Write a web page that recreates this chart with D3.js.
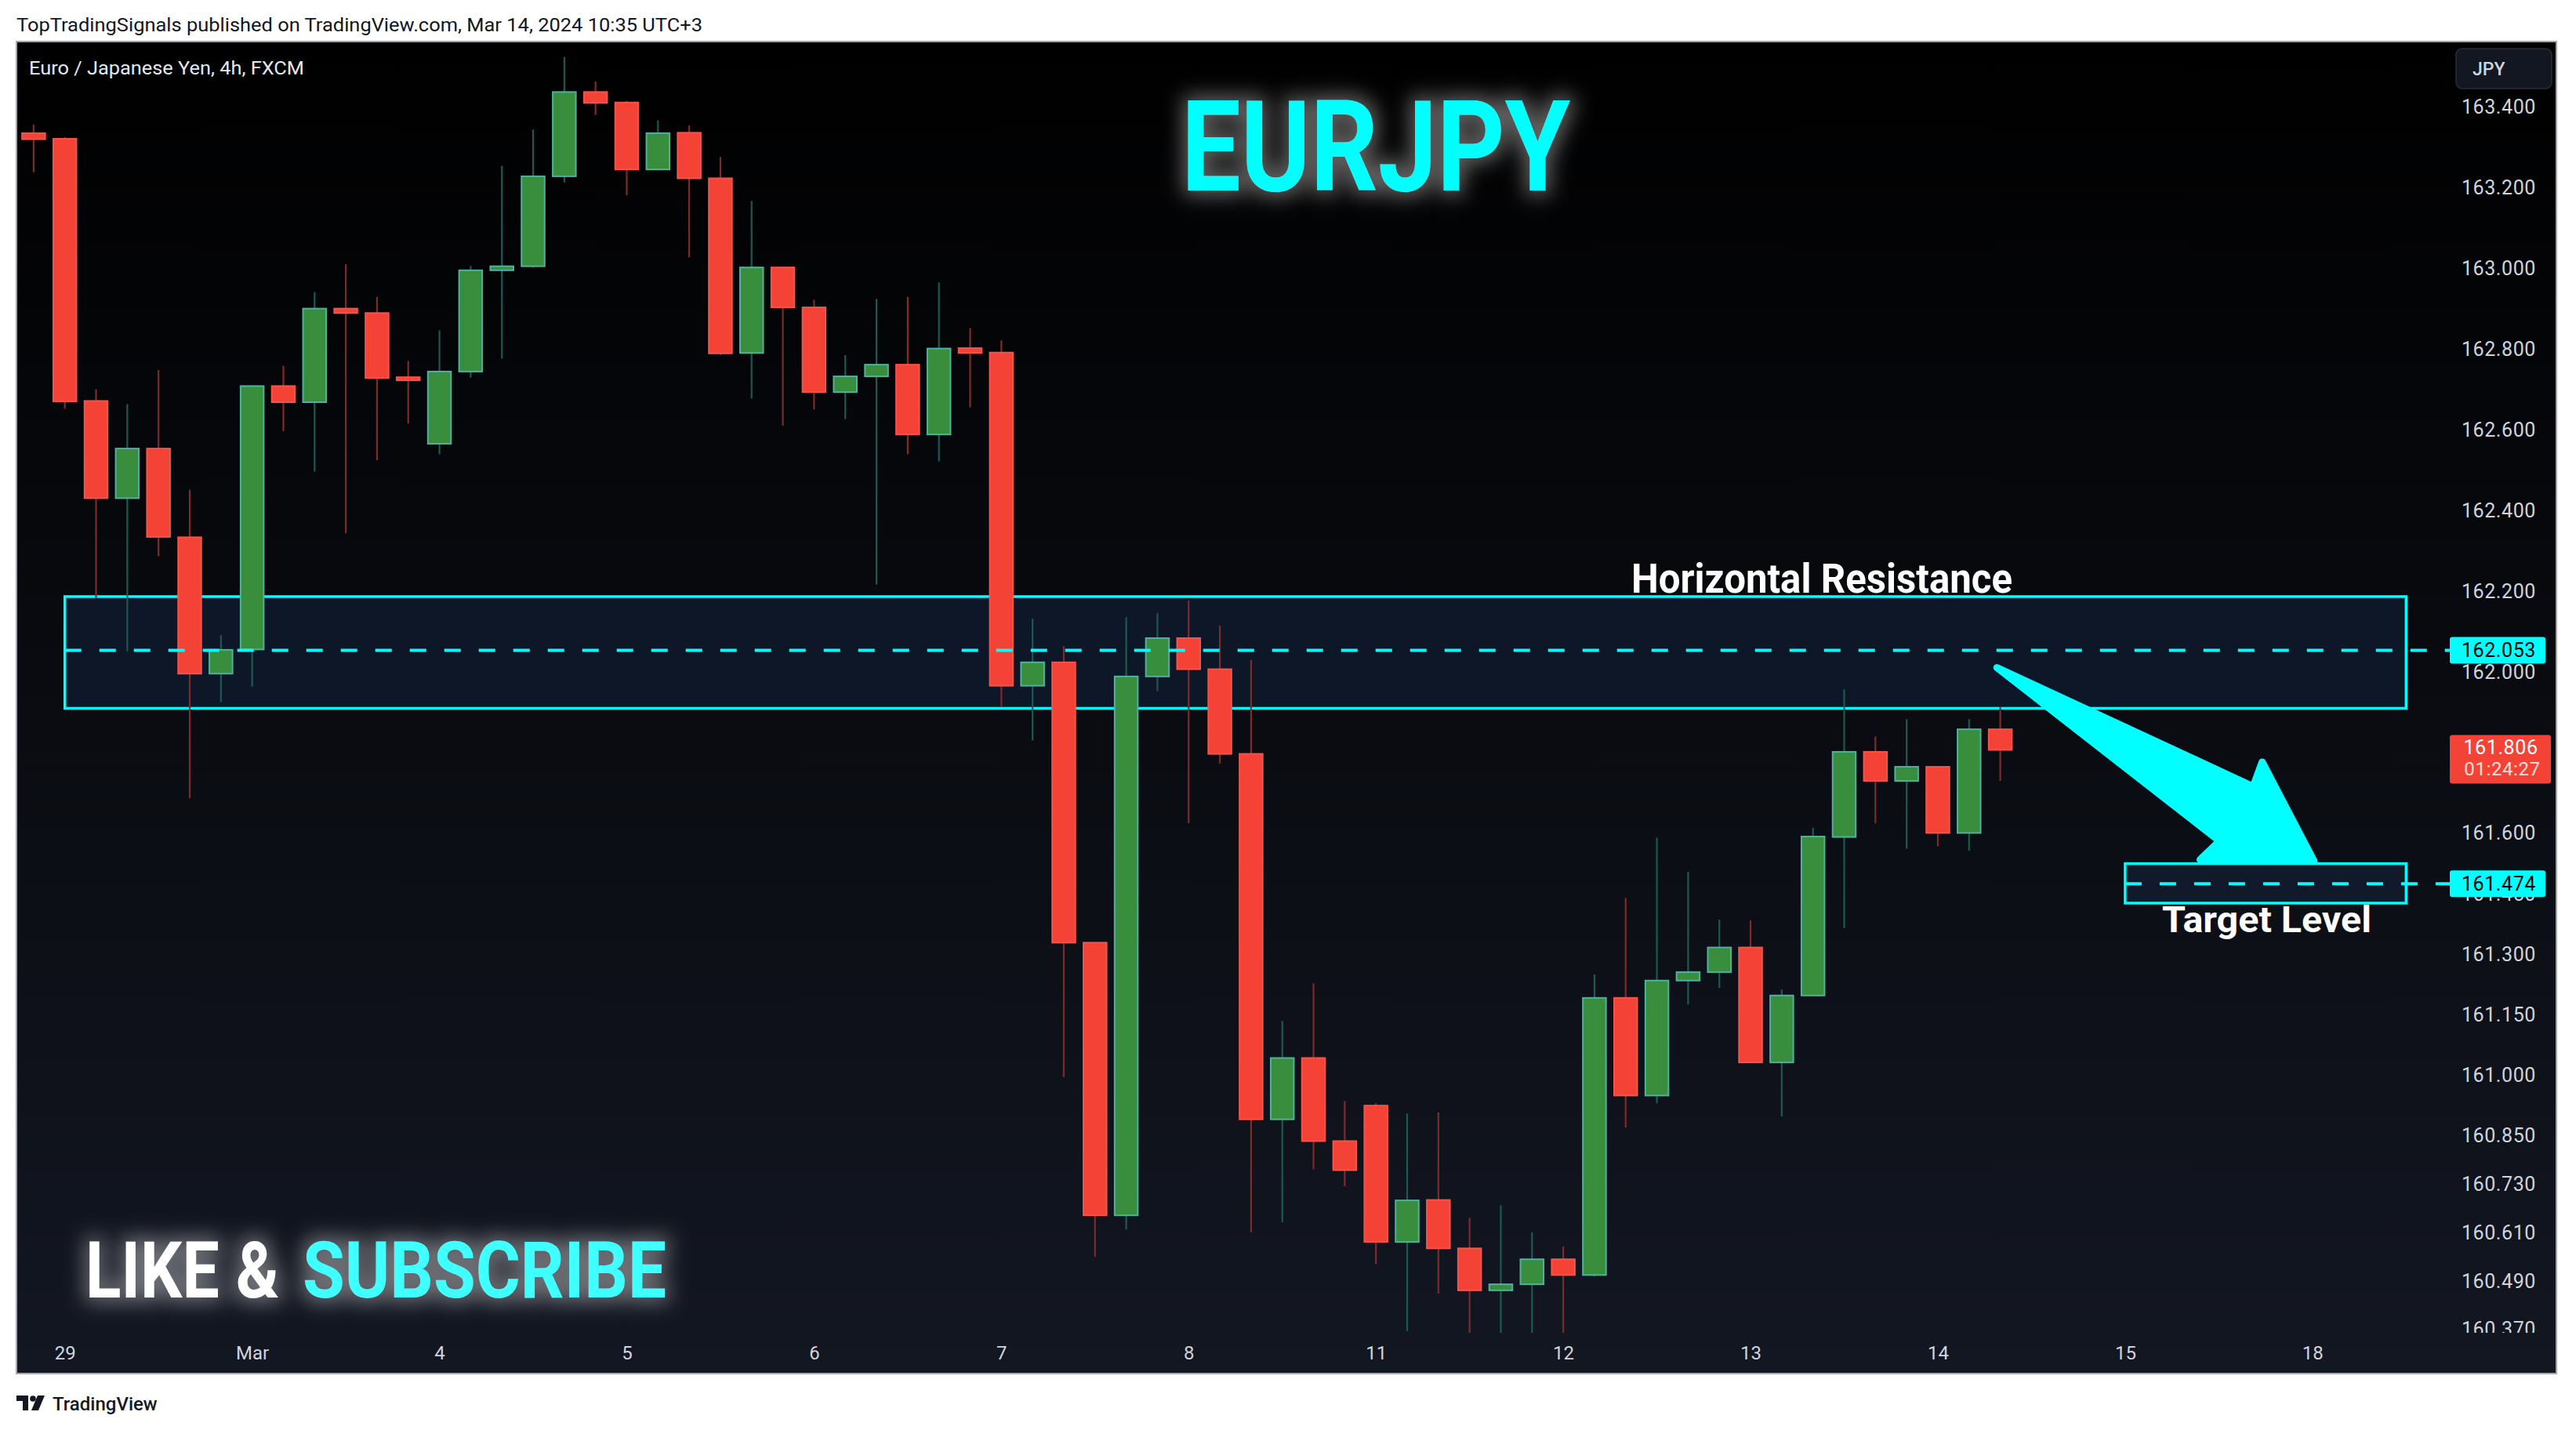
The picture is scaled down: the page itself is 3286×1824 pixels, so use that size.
<!DOCTYPE html>
<html><head><meta charset="utf-8">
<script src="https://cdn.jsdelivr.net/npm/d3@7"></script>
<style>html,body{margin:0;padding:0;background:#fff;} svg{display:block}</style>
</head><body><svg id="c" width="3286" height="1824"></svg>
<script>
// ---------------- DATA ----------------
const dayLabels = ["29","Mar","4","5","6","7","8","11","12","13","14","15","18"];
const dayLabelIndex = [1,7,13,19,25,31,37,43,49,55,61,67,73];

const opens = [163.335,163.321,162.671,162.430,162.553,162.333,161.995,162.055,162.708,162.668,
162.900,162.889,162.728,162.565,162.744,162.995,163.005,163.228,163.437,163.411,
163.245,163.336,163.223,162.790,163.002,162.903,162.693,162.732,162.761,162.588,
162.802,162.791,161.965,162.023,161.328,160.652,161.988,162.083,162.006,161.796,
160.890,161.042,160.836,160.924,160.586,160.690,160.570,160.466,160.481,160.543,
160.504,161.191,160.949,161.234,161.255,161.316,161.031,161.197,161.590,161.801,
161.729,161.764,161.600,161.857];
const highs = [163.356,163.325,162.700,162.663,162.748,162.451,162.090,162.710,162.758,162.941,
163.010,162.929,162.770,162.846,163.006,163.254,163.344,163.524,163.463,163.415,
163.367,163.354,163.276,163.167,163.002,162.922,162.785,162.924,162.929,162.965,
162.852,162.821,162.131,162.063,161.328,162.135,162.145,162.176,162.114,162.029,
161.134,161.227,160.935,160.930,160.904,160.907,160.646,160.677,160.610,160.575,
161.249,161.439,161.588,161.504,161.385,161.383,161.212,161.613,161.956,161.839,
161.882,161.764,161.882,161.913];
const lows = [163.238,162.652,162.183,162.050,162.286,161.686,161.924,161.963,162.596,162.496,
162.343,162.524,162.615,162.539,162.729,162.776,163.001,163.213,163.380,163.181,
163.245,163.027,162.785,162.677,162.610,162.650,162.626,162.216,162.539,162.521,
162.655,161.914,161.829,160.995,160.549,160.617,161.952,161.624,161.772,160.610,
160.635,160.766,160.724,160.531,160.365,160.458,160.340,160.340,160.340,160.340,
160.500,160.870,160.930,161.175,161.216,161.031,160.897,161.197,161.364,161.624,
161.561,161.567,161.556,161.729];
const closes = [163.320,162.670,162.430,162.553,162.334,161.995,162.054,162.708,162.668,162.900,
162.889,162.728,162.724,162.744,162.995,163.005,163.228,163.437,163.410,163.245,
163.335,163.223,162.789,163.002,162.903,162.693,162.732,162.761,162.588,162.801,
162.790,161.965,162.023,161.328,160.652,161.988,162.083,162.006,161.796,160.890,
161.042,160.836,160.764,160.586,160.689,160.570,160.466,160.481,160.543,160.504,
161.191,160.949,161.234,161.255,161.316,161.031,161.197,161.591,161.801,161.729,
161.764,161.600,161.857,161.806];

const priceTicks = [163.4,163.2,163.0,162.8,162.6,162.4,162.2,162.0,161.6,161.45,161.3,161.15,161.0,160.85,160.73,160.61,160.49,160.37];

const resistanceZone = [162.186, 161.909];   // top, bottom
const resistanceSpan = [1, 76];              // bar index start, end
const resistanceLevel = 162.053;
const targetZone = [161.524, 161.426];
const targetSpan = [67, 76];
const targetLevel = 161.474;
const lastPrice = 161.806;
const countdown = "01:24:27";
const arrowIdx = [62.89, 71.10, 71.39, 73.05, 69.40, 70.02];
const arrowPrice = [162.010, 161.715, 161.776, 161.530, 161.534, 161.580];

// ---------------- LAYOUT ----------------
const svg = d3.select("#c");
const P = {left:21, right:3261, top:53, bottom:1752, plotRight:3118, plotBottom:1700};
const x = d3.scaleLinear().domain([0, 73]).range([42.9, 2949.8]);
const y = d3.scaleLinear().domain([163.4, 160.49]).range([136.4, 1633.5]);
const CYAN = "#00ffff";
const FONT = "Roboto, 'Noto Sans', sans-serif";

const defs = svg.append("defs");
const grad = defs.append("linearGradient").attr("id","bg").attr("gradientUnits","userSpaceOnUse")
  .attr("x1",0).attr("y1",P.top).attr("x2",0).attr("y2",P.bottom);
grad.append("stop").attr("offset",0).attr("stop-color","#000000");
grad.append("stop").attr("offset",1).attr("stop-color","#131722");
defs.append("clipPath").attr("id","plotclip").append("rect")
  .attr("x",P.left).attr("y",P.top).attr("width",P.plotRight-P.left).attr("height",P.plotBottom-P.top);
defs.append("clipPath").attr("id","axisclip").append("rect")
  .attr("x",P.plotRight).attr("y",P.top).attr("width",P.right-P.plotRight).attr("height",P.plotBottom-P.top);
const glow = defs.append("filter").attr("id","glow").attr("x","-20%").attr("y","-60%").attr("width","140%").attr("height","220%");
glow.append("feMorphology").attr("in","SourceAlpha").attr("operator","dilate").attr("radius",6).attr("result","d");
glow.append("feGaussianBlur").attr("in","d").attr("stdDeviation",13).attr("result","b");
glow.append("feFlood").attr("flood-color","#ffffff").attr("flood-opacity",0.38);
glow.append("feComposite").attr("in2","b").attr("operator","in").attr("result","g");
const fm = glow.append("feMerge"); fm.append("feMergeNode").attr("in","g"); fm.append("feMergeNode").attr("in","SourceGraphic");

// page header
svg.append("text").attr("x",21).attr("y",40).attr("font-family",FONT).attr("font-size",23)
  .attr("fill","#131722").attr("textLength",875).attr("lengthAdjust","spacingAndGlyphs")
  .text("TopTradingSignals published on TradingView.com, Mar 14, 2024 10:35 UTC+3");

// panel
svg.append("rect").attr("x",P.left).attr("y",P.top).attr("width",P.right-P.left).attr("height",P.bottom-P.top)
  .attr("fill","url(#bg)");
svg.append("rect").attr("x",P.left).attr("y",P.top).attr("width",P.right-P.left).attr("height",P.bottom-P.top)
  .attr("fill","none").attr("stroke","#a3a6af").attr("stroke-width",2);

svg.append("text").attr("x",37).attr("y",95).attr("font-family",FONT).attr("font-size",24)
  .attr("fill","#e6e8ee").attr("textLength",351).attr("lengthAdjust","spacingAndGlyphs")
  .text("Euro / Japanese Yen, 4h, FXCM");

const plot = svg.append("g").attr("clip-path","url(#plotclip)");

// resistance zone
plot.append("rect").attr("x",x(resistanceSpan[0])).attr("y",y(resistanceZone[0]))
  .attr("width",x(resistanceSpan[1])-x(resistanceSpan[0])).attr("height",y(resistanceZone[1])-y(resistanceZone[0]))
  .attr("fill","#0e1727").attr("stroke",CYAN).attr("stroke-width",3.5);
// target zone
plot.append("rect").attr("x",x(targetSpan[0])).attr("y",y(targetZone[0]))
  .attr("width",x(targetSpan[1])-x(targetSpan[0])).attr("height",y(targetZone[1])-y(targetZone[0]))
  .attr("fill","#111a2b").attr("stroke",CYAN).attr("stroke-width",3.5);

// candles
const bars = d3.range(opens.length).map(i=>({i,o:opens[i],h:highs[i],l:lows[i],c:closes[i]}));
const bw = 31.5;
const cg = plot.append("g");
cg.selectAll("line.wick").data(bars).join("line").attr("class","wick")
  .attr("x1",d=>x(d.i)).attr("x2",d=>x(d.i)).attr("y1",d=>y(d.h)).attr("y2",d=>y(d.l))
  .attr("stroke",d=>d.c>=d.o?"#1b5a50":"#7e2b2b").attr("stroke-width",2.2);
cg.selectAll("rect.body").data(bars).join("rect").attr("class","body")
  .attr("x",d=>x(d.i)-bw/2+1).attr("width",bw-2)
  .attr("y",d=>{const t=y(Math.max(d.o,d.c)), b=y(Math.min(d.o,d.c)); return (b-t<4)?(t+b)/2-2:t;})
  .attr("height",d=>Math.max(4,y(Math.min(d.o,d.c))-y(Math.max(d.o,d.c))))
  .attr("fill",d=>d.c>=d.o?"#388e3c":"#f44336")
  .attr("stroke",d=>d.c>=d.o?"#4fb1a0":"#f5544a").attr("stroke-width",2);

// dashed levels (extend to axis label)
svg.append("line").attr("x1",x(resistanceSpan[0])).attr("x2",3125).attr("y1",y(resistanceLevel)).attr("y2",y(resistanceLevel))
  .attr("stroke",CYAN).attr("stroke-width",4).attr("stroke-dasharray","21 23");
svg.append("line").attr("x1",x(targetSpan[0])).attr("x2",3125).attr("y1",y(targetLevel)).attr("y2",y(targetLevel))
  .attr("stroke",CYAN).attr("stroke-width",4).attr("stroke-dasharray","21 23");

// arrow
const pts = arrowIdx.map((d,i)=>[x(d), y(arrowPrice[i])]);
plot.append("path").attr("d", d3.line()(pts)+"Z").attr("fill",CYAN).attr("stroke",CYAN)
  .attr("stroke-width",9).attr("stroke-linejoin","round");

// annotation texts
svg.append("text").attr("x",2081).attr("y",756).attr("font-family",FONT).attr("font-weight",700)
  .attr("font-size",51).attr("fill","#ffffff").attr("textLength",486).attr("lengthAdjust","spacingAndGlyphs")
  .text("Horizontal Resistance");
svg.append("text").attr("x",2758).attr("y",1189).attr("font-family",FONT).attr("font-weight",700)
  .attr("font-size",47).attr("fill","#ffffff").attr("textLength",267).attr("lengthAdjust","spacingAndGlyphs")
  .text("Target Level");

// titles with glow
svg.append("text").attr("x",1507).attr("y",243).attr("font-family",FONT).attr("font-weight",700)
  .attr("font-size",162).attr("fill",CYAN).attr("textLength",496).attr("lengthAdjust","spacingAndGlyphs")
  .attr("filter","url(#glow)").text("EURJPY");
svg.append("text").attr("x",109).attr("y",1655).attr("font-family",FONT).attr("font-weight",700)
  .attr("font-size",101).attr("fill","#ffffff").attr("textLength",247).attr("lengthAdjust","spacingAndGlyphs")
  .attr("filter","url(#glow)").text("LIKE &");
svg.append("text").attr("x",386).attr("y",1655).attr("font-family",FONT).attr("font-weight",700)
  .attr("font-size",101).attr("fill","#40ffff").attr("textLength",464).attr("lengthAdjust","spacingAndGlyphs")
  .attr("filter","url(#glow)").text("SUBSCRIBE");

// price axis
const ya = svg.append("g").attr("clip-path","url(#axisclip)");
ya.selectAll("text.tick").data(priceTicks).join("text").attr("class","tick")
  .attr("x",3235).attr("y",d=>y(d)).attr("dy","0.36em").attr("text-anchor","end")
  .attr("font-family",FONT).attr("font-size",25).attr("fill","#d1d4dc").attr("letter-spacing",0.6)
  .text(d=>d3.format(".3f")(d));
// JPY button
svg.append("rect").attr("x",3133).attr("y",62).attr("width",122).attr("height",51).attr("rx",8)
  .attr("fill","#131722").attr("stroke","#2a2e39").attr("stroke-width",1.5);
svg.append("text").attr("x",3154).attr("y",96).attr("font-family",FONT).attr("font-size",23)
  .attr("fill","#d1d4dc").attr("font-weight",500).text("JPY");
// level labels
[[resistanceLevel],[targetLevel]].forEach(([v])=>{
  ya.append("rect").attr("x",3125).attr("y",y(v)-17).attr("width",122).attr("height",34).attr("rx",3).attr("fill",CYAN);
  ya.append("text").attr("x",3235).attr("y",y(v)).attr("dy","0.36em").attr("text-anchor","end")
    .attr("font-family",FONT).attr("font-size",25).attr("fill","#000").attr("letter-spacing",0.6).text(d3.format(".3f")(v));
});
ya.append("rect").attr("x",3125).attr("y",y(lastPrice)-19).attr("width",129).attr("height",62).attr("rx",3).attr("fill","#f44336");
ya.append("text").attr("x",3190).attr("y",y(lastPrice)+6).attr("text-anchor","middle")
  .attr("font-family",FONT).attr("font-size",25).attr("fill","#ffffff").attr("letter-spacing",0.6).text(d3.format(".3f")(lastPrice));
ya.append("text").attr("x",3192).attr("y",y(lastPrice)+33).attr("text-anchor","middle")
  .attr("font-family",FONT).attr("font-size",24).attr("fill","#fde0dd").attr("letter-spacing",0.6).text(countdown);

// time axis
const xa = svg.append("g").attr("transform",`translate(0,${P.plotBottom})`)
  .call(d3.axisBottom(x).tickValues(dayLabelIndex).tickFormat((d,i)=>dayLabels[i]).tickSize(0));
xa.select(".domain").remove();
xa.selectAll("text").attr("y",34).attr("dy",0).attr("font-family",FONT).attr("font-size",24).attr("fill","#d1d4dc");

// footer logo
const lg = svg.append("g").attr("transform","translate(21,1780)").attr("fill","#131722");
lg.append("path").attr("d","M0 0 H15 V19 H8 V7 H0 Z");
lg.append("circle").attr("cx",21).attr("cy",4).attr("r",3.8);
lg.append("path").attr("d","M27 0 H36 L28 19 H19 Z");
svg.append("text").attr("x",67).attr("y",1799).attr("font-family",FONT).attr("font-size",24).attr("font-weight",500)
  .attr("fill","#131722").text("TradingView");
</script></body></html>
